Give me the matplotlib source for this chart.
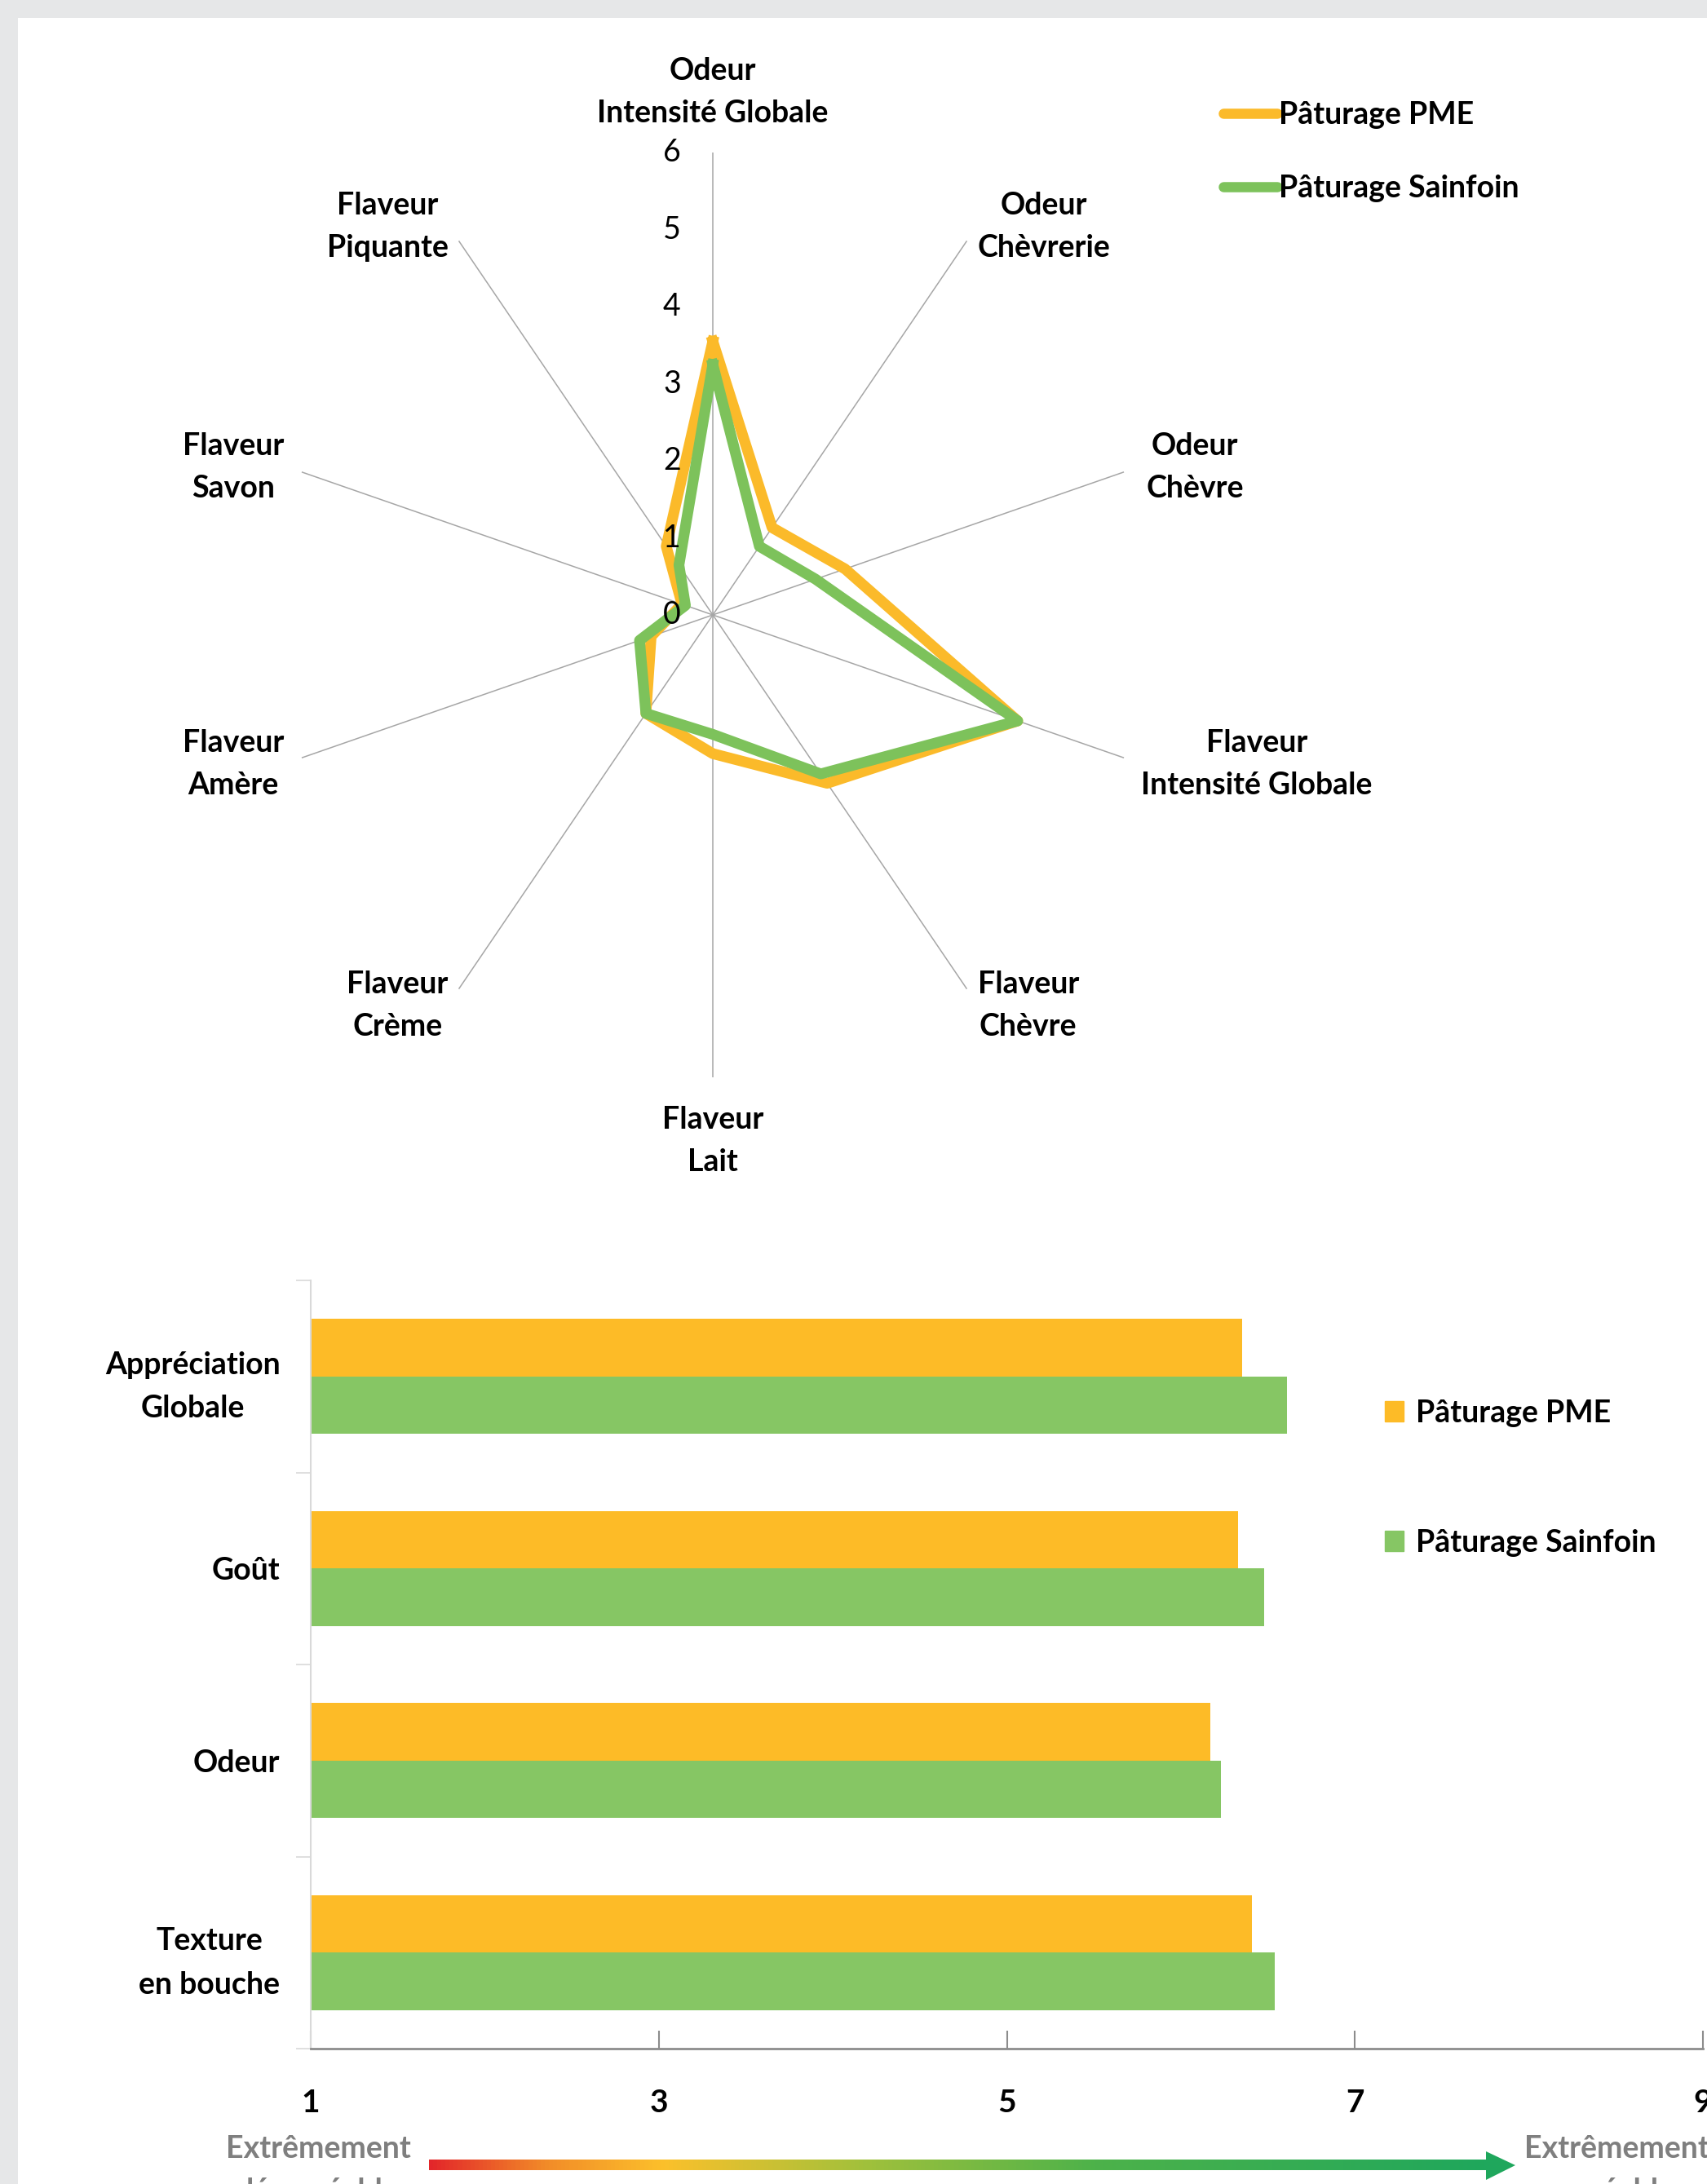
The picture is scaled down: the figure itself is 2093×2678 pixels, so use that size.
import numpy as np
import matplotlib
matplotlib.use("Agg")
import matplotlib.pyplot as plt
from matplotlib.colors import LinearSegmentedColormap
from matplotlib.patches import Rectangle, Polygon, Patch
from matplotlib.lines import Line2D

plt.rcParams['font.family'] = ['Lato', 'DejaVu Sans']

W, H, DPI = 2093, 2678, 100

# --- data ---
series = ["Pâturage PME", "Pâturage Sainfoin"]

radar_axes = ["Odeur\nIntensité Globale", "Odeur\nChèvrerie", "Odeur\nChèvre",
              "Flaveur\nIntensité Globale", "Flaveur\nChèvre", "Flaveur\nLait",
              "Flaveur\nCrème", "Flaveur\nAmère", "Flaveur\nSavon", "Flaveur\nPiquante"]
radar_pme = [3.55, 1.4, 1.93, 4.45, 2.7, 1.8, 1.58, 0.9, 0.45, 1.1]
radar_sainfoin = [3.25, 1.1, 1.5, 4.45, 2.55, 1.55, 1.58, 1.07, 0.4, 0.8]
radar_ticks = [0, 1, 2, 3, 4, 5, 6]

bar_categories = ["Appréciation\nGlobale", "Goût", "Odeur", "Texture\nen bouche"]
bar_pme = [6.35, 6.33, 6.17, 6.41]
bar_sainfoin = [6.61, 6.48, 6.23, 6.54]
bar_ticks = [1, 3, 5, 7, 9]
scale_ends = ["Extrêmement\ndésagréable", "Extrêmement\nagréable"]

ORANGE_LINE, GREEN_LINE = "#FBBA2A", "#7DC25B"
ORANGE_BAR, GREEN_BAR = "#FDBB27", "#86C664"
FS = 27
LS = 1.63


def fx(x):
    return x / W


def fy(y):
    return 1 - y / H


fig = plt.figure(figsize=(W / DPI, H / DPI), dpi=DPI, facecolor="#E6E7E8")
fig.add_artist(Rectangle((fx(22), 0), 1, fy(22), transform=fig.transFigure,
                         facecolor="white", edgecolor="none", zorder=-10))

# --- radar ---
cx, cy, rx, ry = 874, 754, 530, 567
ax = fig.add_axes([fx(cx - rx), fy(cy + ry), 2 * rx / W, 2 * ry / H], projection="polar")
ax.set_aspect("auto")
ax.set_facecolor("none")
ax.set_theta_zero_location("N")
ax.set_theta_direction(-1)
theta = np.linspace(0, 2 * np.pi, len(radar_axes), endpoint=False)
ax.set_xticks(theta)
ax.set_xticklabels([])
ax.set_yticks([])
ax.set_ylim(0, 6)
ax.grid(axis="x", color="#A6A6A6", lw=1.1)
ax.spines["polar"].set_visible(False)

th = np.append(theta, theta[0])
ax.plot(th, radar_pme + radar_pme[:1], color=ORANGE_LINE, lw=9.5, solid_joinstyle="round")
ax.plot(th, radar_sainfoin + radar_sainfoin[:1], color=GREEN_LINE, lw=9.5, solid_joinstyle="round")

for v in radar_ticks:
    ax.annotate(str(v), xy=(0, v), xytext=(-36, 0), textcoords="offset points",
                ha="center", va="center", fontsize=27)

# label offsets in pixels (dx, dy) and alignment
label_layout = [(0, 31, "center", "bottom"), (13, 17, "left", "center"),
                (27, 6, "left", "center"), (21, -8, "left", "center"),
                (13, -20, "left", "center"), (0, -35, "center", "top"),
                (-13, -20, "right", "center"), (-22, -8, "right", "center"),
                (-22, 6, "right", "center"), (-13, 17, "right", "center")]
for t, lab, (dx, dy, ha, va) in zip(theta, radar_axes, label_layout):
    ax.annotate(lab, xy=(t, 6), xytext=(dx * 0.72, dy * 0.72), textcoords="offset points",
                ha=ha, va=va, fontsize=FS, fontweight="bold", multialignment="center",
                linespacing=LS, annotation_clip=False)

line_handles = [Line2D([], [], color=ORANGE_LINE, lw=9, solid_capstyle="round"),
                Line2D([], [], color=GREEN_LINE, lw=9, solid_capstyle="round")]
fig.legend(line_handles, series, loc="upper left", bbox_to_anchor=(fx(1500), fy(124)),
           frameon=False, prop={"size": FS, "weight": "bold"}, handlelength=1.75,
           handletextpad=0.05, labelspacing=1.5, borderpad=0, borderaxespad=0)

# --- bars ---
bx = fig.add_axes([fx(381), fy(2512), (2088 - 381) / W, (2512 - 1570) / H])
pos = np.arange(len(bar_categories))[::-1]
bx.barh(pos + 0.15, bar_pme, height=0.3, color=ORANGE_BAR)
bx.barh(pos - 0.15, bar_sainfoin, height=0.3, color=GREEN_BAR)
bx.set_xlim(1, 9)
bx.set_ylim(-0.5, len(bar_categories) - 0.5)
for s in ("top", "right"):
    bx.spines[s].set_visible(False)
bx.spines["left"].set_color("#D9D9D9")
bx.spines["left"].set_linewidth(1.5)
bx.spines["bottom"].set_color("#8C8C8C")
bx.spines["bottom"].set_linewidth(2)
bx.set_xticks(bar_ticks)
bx.set_xticklabels([str(t) for t in bar_ticks], fontsize=28, fontweight="bold")
bx.tick_params(axis="x", direction="in", length=16, width=1.5, color="#8C8C8C", pad=35)
bx.set_yticks(pos)
bx.set_yticklabels(bar_categories, fontsize=FS, fontweight="bold")
for lab in bx.get_yticklabels():
    lab.set_multialignment("center")
    lab.set_linespacing(1.7)
bx.tick_params(axis="y", which="major", length=0, pad=27)
bx.set_yticks(np.arange(-0.5, len(bar_categories)), minor=True)
bx.tick_params(axis="y", which="minor", length=13, width=1.2, color="#D9D9D9")

patch_handles = [Patch(color=ORANGE_BAR), Patch(color=GREEN_BAR)]
fig.legend(patch_handles, series, loc="upper left", bbox_to_anchor=(fx(1698), fy(1716)),
           frameon=False, prop={"size": FS, "weight": "bold"}, handlelength=0.6,
           handleheight=0.65, handletextpad=0.4, labelspacing=3.33, borderpad=0,
           borderaxespad=0)

# --- gradient arrow and scale labels ---
fig.text(fx(390), fy(2618), scale_ends[0], ha="center", va="top", fontsize=27,
         fontweight="bold", color="#7F7F7F", multialignment="center", linespacing=LS)
fig.text(fx(1982), fy(2618), scale_ends[1], ha="center", va="top", fontsize=27,
         fontweight="bold", color="#7F7F7F", multialignment="center", linespacing=LS)

cmap = LinearSegmentedColormap.from_list(
    "scale", [(0, "#E3262A"), (0.11, "#F28C28"), (0.22, "#FCC02B"),
              (0.42, "#9DC03C"), (0.63, "#4DB24A"), (1, "#1FA75C")])
arr = fig.add_axes([fx(520), fy(2678), (1870 - 520) / W, 48 / H])
arr.set_xlim(520, 1870)
arr.set_ylim(2678, 2630)
arr.axis("off")
arr.imshow(np.linspace(0, 1, 256)[None, :], cmap=cmap, aspect="auto",
           extent=(526, 1823, 2661.5, 2648.5))
arr.add_patch(Polygon([(1822, 2638), (1858, 2655), (1822, 2673)], closed=True,
                      facecolor="#1FA75C", edgecolor="none"))

fig.savefig("out.png", dpi=DPI, facecolor=fig.get_facecolor())
